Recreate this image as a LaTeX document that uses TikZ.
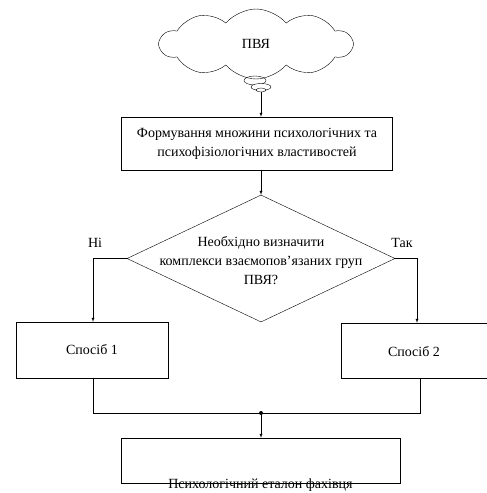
\documentclass[tikz,border=0pt]{standalone}
\usepackage{fontspec}
\setmainfont{Liberation Serif}
\usetikzlibrary{shapes.symbols,shapes.geometric}
\newcommand{\ftxt}[1]{\fontsize{14}{19}\selectfont #1}

\begin{document}
\begin{tikzpicture}[ x = 1pt, y = -1pt, >=latex,
                     every node/.style={font=\ftxt{}},draw = black,
                   ]
 \useasboundingbox (0,0) rectangle (487,493);

 \draw (256,44) node[cloud,draw=black,cloud puffs=10,cloud puff arc=100,
                     aspect=2.8,minimum width=192pt,minimum height=70pt] (C) {ПВЯ};

 \draw (255,80.5) node[ellipse,draw=black,inner sep=0pt,
                       minimum width=22pt,minimum height=9pt] (T1) {};
 \draw (261,87) node[ellipse,draw=black,inner sep=0pt,fill=white,
                     minimum width=20pt,minimum height=7pt] (T2) {};
 \draw (261,90) node[ellipse,draw=black,inner sep=0pt,fill=white,
                     minimum width=10pt,minimum height=4pt] (T3) {};

 \draw (257,143.5) node[rectangle,draw=black,minimum width=271pt,
                        minimum height=53pt,align=center] (A)
              {Формування множини психологічних та\\
               психофізіологічних властивостей};

 \draw (261,258.5) node[diamond,draw=black,aspect=2.1,inner sep=0pt,
                        minimum width=268pt,minimum height=127pt] (D) {};
 \draw (261,261) node[align=center] (Q)
              {Необхідно визначити\\комплекси взаємопов’язаних груп\\ПВЯ?};

 \draw (92,350) node[rectangle,draw=black,minimum width=152pt,
                     minimum height=56pt] (S1) {Спосіб 1};
 \draw (414,350.5) node[rectangle,draw=black,minimum width=146pt,
                        minimum height=55pt] (S2) {\raisebox{-12pt}{Спосіб 2}};

 \draw (260.5,460.5) node[rectangle,draw=black,minimum width=279pt,
                         minimum height=45pt,
                         label={[anchor=center,yshift=-2pt]south:Психологічний еталон фахівця}] (E) {};

 \draw (95,243) node (N) {Ні};
 \draw (402,243) node (Y) {Так};

 \coordinate (J) at (261,413);

 \draw[->] (T3.south) -- (A.north -| T3.south);
 \draw[->] (A.south -| D.north) -- (D.north);
 \draw[->] (D.west) -| (S1.north -| 93,0);
 \draw[->] (D.east) -| (S2.north -| 417,0);
 \draw (S1.south -| 93,0) |- (J);
 \draw (S2.south -| 420,0) |- (J);
 \fill (J) circle (2pt);
 \draw[->] (J) -- (E.north -| J);

\end{tikzpicture}
\end{document}
